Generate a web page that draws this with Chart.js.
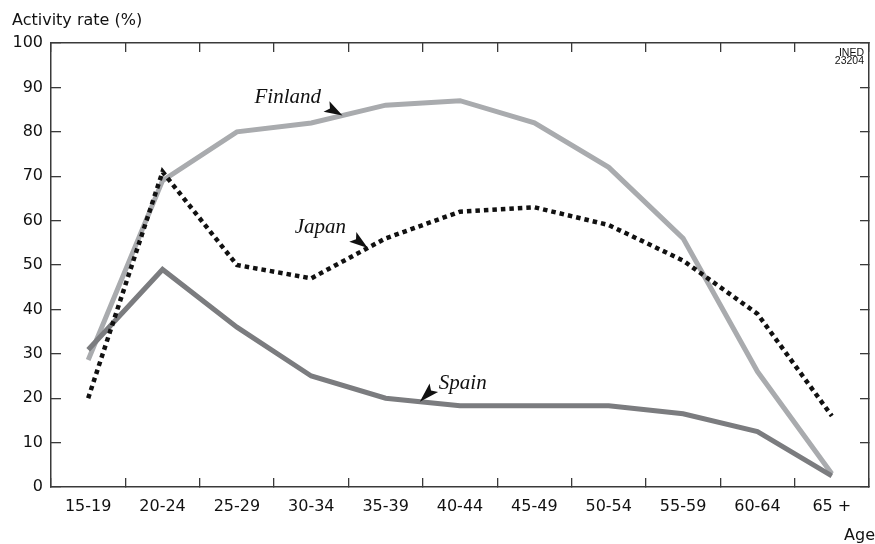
<!DOCTYPE html>
<html>
<head>
<meta charset="utf-8">
<script src="https://cdn.jsdelivr.net/npm/chart.js@4.4.0/dist/chart.umd.min.js"></script>
<style>
html,body{margin:0;padding:0;background:#fff;}
#wrap{width:875px;height:544px;position:relative;}
</style>
</head>
<body>
<div id="wrap"><canvas id="c" width="875" height="544"></canvas></div>
<script>
// ---- data ----
const ageGroups = ['15-19','20-24','25-29','30-34','35-39','40-44','45-49','50-54','55-59','60-64','65 +'];
const finland = [28.6, 69, 80, 82, 86, 87, 82, 72, 56, 26, 3];
const japan   = [20, 71, 50, 47, 56, 62, 63, 59, 51, 39, 16];
const spain   = [30.9, 49, 36, 25, 20, 18.3, 18.3, 18.3, 16.5, 12.5, 2.5];
const yTicks  = [0,10,20,30,40,50,60,70,80,90,100];

// annotation labels: arrow tip sits on the series at a fractional category index
const notes = [
  {text:'Finland', series:finland, at:3.42, dx:-88, dy:-12, ax:-16, ay:-9},
  {text:'Japan',   series:japan,   at:3.76, dx:-73, dy:-15, ax:-15, ay:-11},
  {text:'Spain',   series:spain,   at:4.46, dx:19,  dy:-13, ax:14,  ay:-14}
];

const SANS = '"DejaVu Sans", "Liberation Sans", Arial, sans-serif';
const AXIS = '#3a3a3a';

function valueAt(series, f){
  const i = Math.floor(f), t = f - i;
  if (i >= series.length-1) return series[series.length-1];
  return series[i] + (series[i+1]-series[i])*t;
}

const extras = {
  id:'extras',
  afterDraw(chart){
    const ctx = chart.ctx, xs = chart.scales.x, ys = chart.scales.y, ca = chart.chartArea;
    ctx.save();
    ctx.fillStyle = '#111';
    ctx.font = '16px ' + SANS;
    ctx.textAlign = 'left'; ctx.textBaseline = 'alphabetic';
    ctx.fillText('Activity rate (%)', 12, 25);
    ctx.textAlign = 'right';
    ctx.fillText('Age', 875, 540);
    ctx.font = '10.5px "Liberation Sans", Arial, sans-serif';
    ctx.fillText('INED', ca.right - 5, 56);
    ctx.fillText('23204', ca.right - 5, 64);
    // annotations
    notes.forEach(n => {
      const tx = xs.getPixelForValue(n.at);
      const ty = ys.getPixelForValue(valueAt(n.series, n.at));
      const bx = tx + n.ax, by = ty + n.ay;
      const len = Math.hypot(n.ax, n.ay);
      const ux = -n.ax/len, uy = -n.ay/len;
      const px = -uy, py = ux;
      const hw = 6;
      ctx.beginPath();
      ctx.moveTo(tx, ty);
      ctx.lineTo(bx + px*hw, by + py*hw);
      ctx.lineTo(bx + ux*4, by + uy*4);
      ctx.lineTo(bx - px*hw, by - py*hw);
      ctx.closePath();
      ctx.fillStyle = '#111';
      ctx.fill();
      ctx.font = 'italic 21px "Liberation Serif", "Times New Roman", serif';
      ctx.textAlign = 'left';
      ctx.fillText(n.text, tx + n.dx, ty + n.dy);
    });
    ctx.restore();
  }
};

new Chart(document.getElementById('c'), {
  type:'line',
  data:{
    labels: ageGroups,
    datasets:[
      {label:'Japan', data:japan, borderColor:'#111', borderWidth:4.5, borderDash:[4.5,4], borderCapStyle:'butt', pointRadius:0, tension:0, fill:false, order:0},
      {label:'Spain', data:spain, borderColor:'#7b7c7f', borderWidth:5, pointRadius:0, tension:0, fill:false, order:1},
      {label:'Finland', data:finland, borderColor:'#a9abae', borderWidth:5, pointRadius:0, tension:0, fill:false, order:2}
    ]
  },
  options:{
    responsive:false, animation:false, devicePixelRatio:1,
    layout:{padding:{left:0,right:0,top:0,bottom:0}},
    plugins:{legend:{display:false}, tooltip:{enabled:false}, title:{display:false}},
    scales:{
      x:{
        type:'category', position:'bottom', offset:true,
        grid:{offset:true, drawOnChartArea:false, drawTicks:true, tickLength:-9, color:AXIS, lineWidth:1.3},
        border:{display:true, color:AXIS, width:1.5},
        ticks:{color:'#111', font:{family:SANS, size:16}, padding:19, maxRotation:0, autoSkip:false},
        afterFit(s){ s.height = 57; }
      },
      x2:{
        type:'category', position:'top', offset:true,
        grid:{offset:true, drawOnChartArea:false, drawTicks:true, tickLength:-9, color:AXIS, lineWidth:1.3},
        border:{display:true, color:AXIS, width:1.5},
        ticks:{display:false},
        afterFit(s){ s.height = 43; }
      },
      y:{
        type:'linear', position:'left', min:0, max:100,
        afterBuildTicks(s){ s.ticks = yTicks.map(v => ({value:v})); },
        grid:{drawOnChartArea:false, drawTicks:true, tickLength:-10, color:AXIS, lineWidth:1.3},
        border:{display:true, color:AXIS, width:1.5},
        ticks:{color:'#111', font:{family:SANS, size:16}, padding:18},
        afterFit(s){ s.width = 51; }
      },
      y2:{
        type:'linear', position:'right', min:0, max:100,
        afterBuildTicks(s){ s.ticks = yTicks.map(v => ({value:v})); },
        grid:{drawOnChartArea:false, drawTicks:true, tickLength:-9, color:AXIS, lineWidth:1.3},
        border:{display:true, color:AXIS, width:1.5},
        ticks:{display:false},
        afterFit(s){ s.width = 6; }
      }
    }
  },
  plugins:[extras]
});
</script>
</body>
</html>
